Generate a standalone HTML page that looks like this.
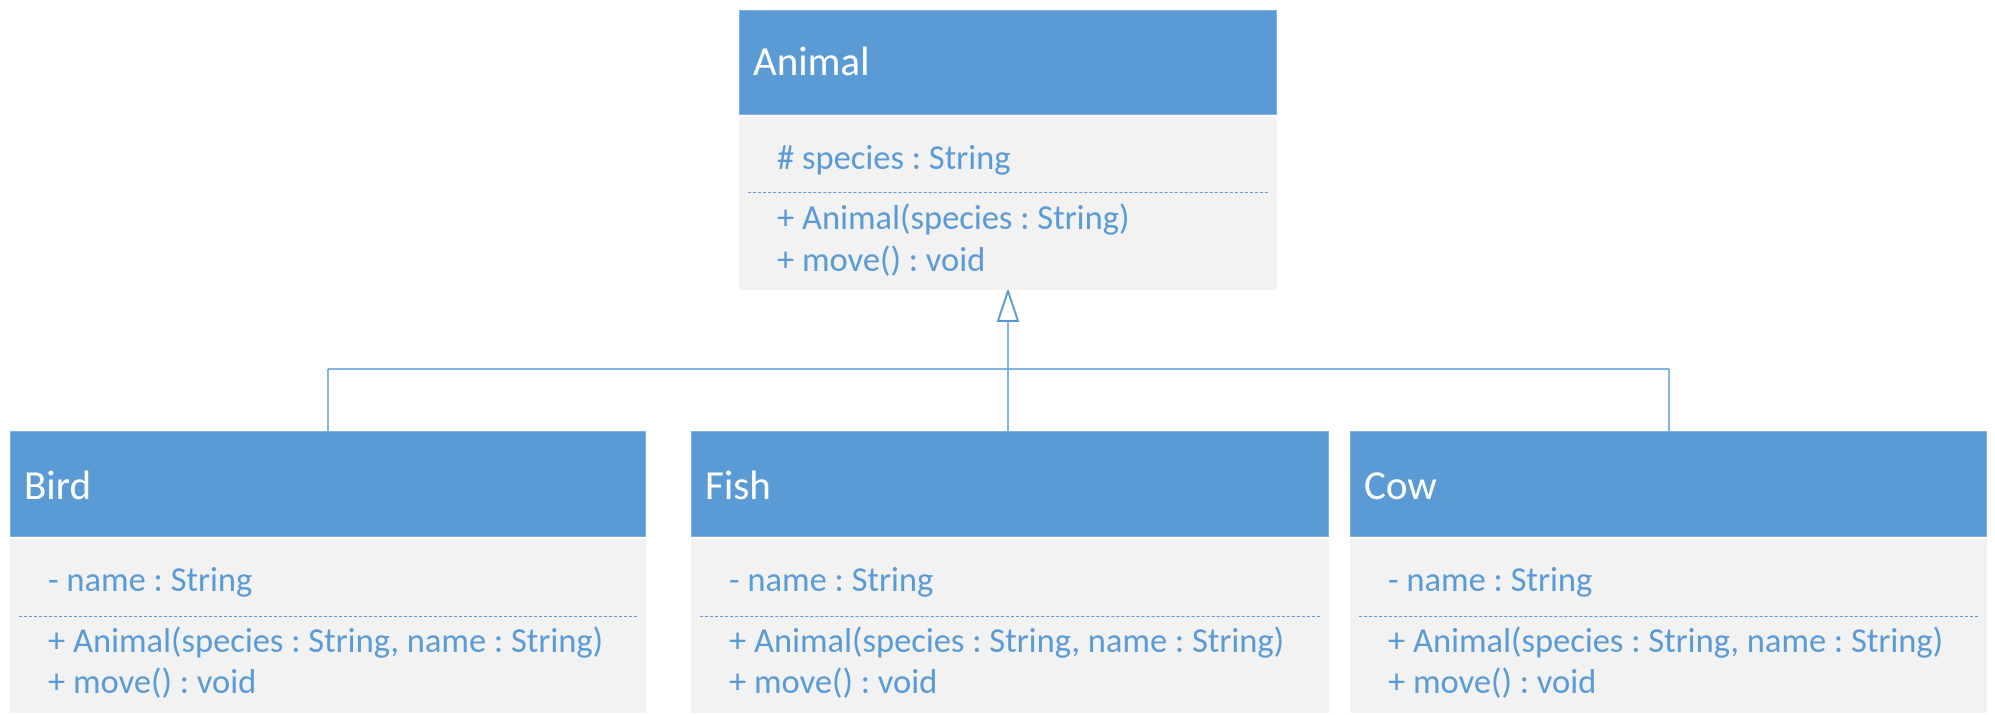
<!DOCTYPE html>
<html><head><meta charset="utf-8"><style>
body{margin:0;width:1995px;height:715px;background:#fff;position:relative;overflow:hidden;font-family:Carlito,"Liberation Sans",sans-serif;}
.h{position:absolute;background:#5B9BD5;color:#fff;font-size:41px;box-sizing:border-box;border:1px solid #7fb0e0}
.h span{position:absolute;left:13px;line-height:44px}
.b{position:absolute;background:#F2F2F2}
.t{position:absolute;color:#5B9BD5;font-size:34.5px;white-space:nowrap;line-height:40px}
.d{position:absolute;border-top:1.5px dashed #5B9BD5;height:0}
</style></head><body>
<svg width="1995" height="715" style="position:absolute;left:0;top:0">
<g stroke="#5B9BD5" stroke-width="1.5" fill="none">
<line x1="1008" y1="321" x2="1008" y2="431"/>
<line x1="328" y1="369" x2="1669" y2="369"/>
<line x1="328" y1="369" x2="328" y2="431"/>
<line x1="1669" y1="369" x2="1669" y2="431"/>
<polygon points="1008,291 998,321 1018,321" fill="#fff" stroke-width="2"/>
</g></svg>

<div class="h" style="left:739px;top:10px;width:538px;height:105px"><span style="top:29px">Animal</span></div>
<div class="b" style="left:739px;top:117px;width:538px;height:173px"></div>
<div class="t" style="left:777px;top:138px"># species : String</div>
<div class="d" style="left:748px;top:192px;width:520px"></div>
<div class="t" style="left:777px;top:198px">+ Animal(species : String)</div>
<div class="t" style="left:777px;top:240px">+ move() : void</div>

<div class="h" style="left:10px;top:431px;width:636px;height:106px"><span style="top:32px">Bird</span></div>
<div class="b" style="left:10px;top:539px;width:636px;height:174px"></div>
<div class="t" style="left:48px;top:560px">- name : String</div>
<div class="d" style="left:19px;top:616px;width:618px"></div>
<div class="t" style="left:48px;top:621px">+ Animal(species : String, name : String)</div>
<div class="t" style="left:48px;top:662px">+ move() : void</div>

<div class="h" style="left:691px;top:431px;width:638px;height:106px"><span style="top:32px">Fish</span></div>
<div class="b" style="left:691px;top:539px;width:638px;height:174px"></div>
<div class="t" style="left:729px;top:560px">- name : String</div>
<div class="d" style="left:700px;top:616px;width:620px"></div>
<div class="t" style="left:729px;top:621px">+ Animal(species : String, name : String)</div>
<div class="t" style="left:729px;top:662px">+ move() : void</div>

<div class="h" style="left:1350px;top:431px;width:637px;height:106px"><span style="top:32px">Cow</span></div>
<div class="b" style="left:1350px;top:539px;width:637px;height:174px"></div>
<div class="t" style="left:1388px;top:560px">- name : String</div>
<div class="d" style="left:1359px;top:616px;width:619px"></div>
<div class="t" style="left:1388px;top:621px">+ Animal(species : String, name : String)</div>
<div class="t" style="left:1388px;top:662px">+ move() : void</div>
</body></html>
